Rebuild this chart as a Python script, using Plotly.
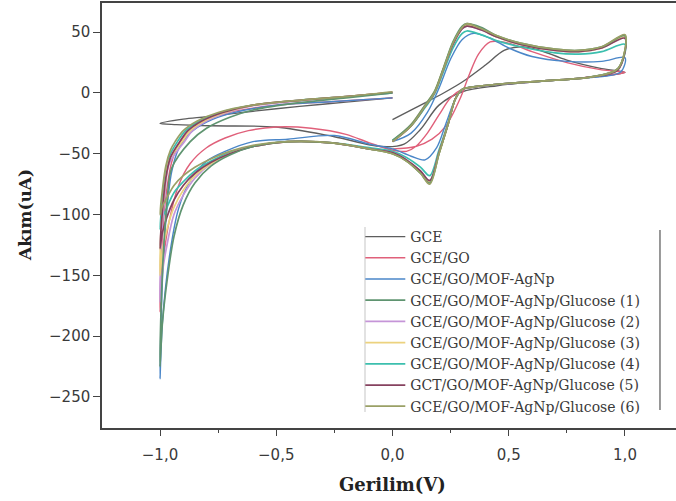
import plotly.graph_objects as go

# ---------------- data (potential V, current uA) ----------------
names = ["GCE", "GCE/GO", "GCE/GO/MOF-AgNp",
         "GCE/GO/MOF-AgNp/Glucose (1)", "GCE/GO/MOF-AgNp/Glucose (2)",
         "GCE/GO/MOF-AgNp/Glucose (3)", "GCE/GO/MOF-AgNp/Glucose (4)",
         "GCT/GO/MOF-AgNp/Glucose (5)", "GCE/GO/MOF-AgNp/Glucose (6)"]
colors = ["#5e5e5e", "#e0607a", "#4a86c8", "#5f9470", "#c595d8",
          "#ecd27e", "#3cbfae", "#86425f", "#9aa066"]
x_title = "Gerilim(V)"
y_title = "Akım(uA)"

gce_v = [0.0, 0.1, 0.22, 0.3, 0.4, 0.48, 0.55, 0.62, 0.75, 0.9, 1.0,
         0.98, 0.8, 0.6, 0.45, 0.3, 0.2, 0.12, 0.05, -0.05, -0.25, -0.5, -0.78, -0.93, -1.0,
         -0.9, -0.8, -0.6, -0.4, -0.2, 0.0]
gce_i = [-22, -12, 0, 9, 23, 35, 38, 36, 27, 20, 17,
         16, 12, 9, 6, 1, -10, -30, -42, -44, -36, -28, -27, -26, -25,
         -21.5, -19.5, -15, -11, -7.5, -4]

go_v = [0.0, 0.1, 0.17, 0.23, 0.29, 0.33, 0.37, 0.42, 0.5, 0.6, 0.75, 0.9, 1.0,
        0.98, 0.8, 0.6, 0.4, 0.3, 0.25, 0.2, 0.15, 0.1, 0.06, 0.0, -0.1, -0.2, -0.35, -0.5,
        -0.62, -0.72, -0.8, -0.87, -0.92, -0.96, -0.99, -1.0,
        -0.995, -0.985, -0.97, -0.95, -0.92, -0.87, -0.8, -0.7, -0.5, -0.25, 0.0]
go_i = [-46, -44, -38, -27, -5, 15, 32, 42, 41, 34, 25, 19, 17,
        16, 12, 9, 6, 3, -4, -18, -33, -44, -48, -47, -41, -34, -29, -28,
        -31, -37, -45, -58, -76, -105, -145, -180,
        -140, -105, -78, -57, -42, -31, -23, -16, -10, -7, -4]

mof_v = [0.0, 0.08, 0.15, 0.2, 0.25, 0.3, 0.35, 0.42, 0.5, 0.6, 0.75, 0.9, 1.0,
         0.98, 0.8, 0.6, 0.4, 0.3, 0.27, 0.23, 0.19, 0.14, 0.08, 0.0, -0.1, -0.25, -0.45,
         -0.6, -0.72, -0.8, -0.87, -0.92, -0.96, -0.99, -1.0,
         -0.995, -0.985, -0.97, -0.95, -0.92, -0.87, -0.8, -0.7, -0.5, -0.25, 0.0]
mof_i = [-40, -33, -16, 4, 28, 44, 49, 45, 37, 30, 26, 26, 29,
         17, 12, 9, 6, 3, -5, -25, -45, -55, -52, -46, -42, -35, -38,
         -40, -48, -56, -72, -95, -135, -190, -235,
         -185, -135, -95, -65, -46, -33, -24, -17, -10, -7, -4]

# shared sweep potentials for the glucose runs
glu_up_v = [0.0, 0.08, 0.14, 0.18, 0.22, 0.26, 0.3, 0.32, 0.38, 0.45, 0.55, 0.7, 0.8, 0.9, 1.0]
glu_down_v = [0.97, 0.85, 0.7, 0.5, 0.35, 0.3, 0.27, 0.24, 0.2, 0.16, 0.12, 0.06, 0.0,
              -0.1, -0.26, -0.45, -0.6, -0.7, -0.78, -0.85, -0.9, -0.94, -0.97, -0.99, -1.0]

g1_up_i = [-39, -26, -10, 1, 21, 42, 55, 57, 54, 47, 41, 36, 35, 38, 47]
g1_down_i = [20, 13, 10.5, 8, 5, 3, -5, -25, -50, -74, -66, -56, -50,
             -46, -41, -40, -44, -51, -60, -74, -92, -118, -155, -190, -225]
g1_back_v = [-0.995, -0.985, -0.97, -0.95, -0.87, -0.8, -0.7, -0.6, -0.4, -0.2, 0.0]
g1_back_i = [-175, -130, -90, -62, -40, -29, -20, -14, -8, -4, 0]

g2_up_i = [-40, -26, -10, 0, 20, 40, 53, 55, 52, 46, 40, 35, 34, 37, 46]
g2_down_i = [20, 13, 10.5, 8, 5, 3, -5, -25, -49, -72, -64, -55, -49,
             -46, -41, -40, -44, -50, -58, -70, -84, -100, -125, -148, -172]
g2_back_v = [-0.995, -0.98, -0.96, -0.895, -0.86, -0.8, -0.71, -0.6, -0.4, -0.2, 0.0]
g2_back_i = [-125, -85, -58, -40, -31, -23, -16, -10.5, -6.5, -3, 0]

g3_up_i = [-40, -26, -10, 1, 21, 41, 54, 56, 53, 46, 40, 35, 34, 37, 46]
g3_down_i = [20, 13, 10.5, 8, 5, 3, -5, -25, -50, -73, -65, -56, -50,
             -46, -41, -40, -44, -50, -58, -68, -80, -94, -112, -130, -150]
g3_back_v = [-0.995, -0.98, -0.96, -0.905, -0.87, -0.81, -0.72, -0.6, -0.4, -0.2, 0.0]
g3_back_i = [-110, -78, -55, -40, -31, -23, -16, -10, -6, -3, 0.5]

g4_up_i = [-39, -27, -12, -1, 18, 37, 49, 51, 48, 43, 38, 33, 32, 34, 40]
g4_down_i = [20, 13, 10.5, 8, 5, 3, -5, -24, -47, -68, -61, -53, -48,
             -45, -41, -40, -44, -49, -56, -64, -73, -82, -94, -103, -112]
g4_back_v = [-0.99, -0.975, -0.955, -0.925, -0.89, -0.83, -0.74, -0.6, -0.4, -0.2, 0.0]
g4_back_i = [-88, -64, -50, -40, -31, -23, -16, -10, -6, -3, 0]

g5_up_i = [-40, -27, -11, 0, 20, 40, 53, 55, 52, 46, 40, 35, 34, 37, 45]
g5_down_i = [19, 13, 10.5, 8, 5, 3, -5, -25, -49, -72, -64, -55, -49,
             -46, -41, -40, -44, -50, -57, -66, -76, -88, -102, -115, -128]
g5_back_v = [-0.99, -0.975, -0.955, -0.915, -0.88, -0.82, -0.73, -0.6, -0.4, -0.2, 0.0]
g5_back_i = [-98, -70, -53, -40, -31, -23, -16, -10, -6, -3, 0.5]

g6_up_i = [-40, -27, -11, 0, 20, 41, 54, 57, 53, 47, 41, 36, 35, 38, 48]
g6_down_i = [20, 13, 10.5, 8, 5, 3, -5, -25, -50, -75, -66, -56, -50,
             -46, -41, -40, -43, -48, -54, -61, -68, -76, -86, -93, -100]
g6_back_v = [-0.99, -0.975, -0.955, -0.935, -0.9, -0.84, -0.75, -0.6, -0.4, -0.2, 0.0]
g6_back_i = [-80, -60, -47, -40, -31, -23, -16, -10, -6, -3, 1]

series_v = [gce_v, go_v, mof_v]
series_i = [gce_i, go_i, mof_i]
for up_i, down_i, back_v, back_i in [
        (g1_up_i, g1_down_i, g1_back_v, g1_back_i),
        (g2_up_i, g2_down_i, g2_back_v, g2_back_i),
        (g3_up_i, g3_down_i, g3_back_v, g3_back_i),
        (g4_up_i, g4_down_i, g4_back_v, g4_back_i),
        (g5_up_i, g5_down_i, g5_back_v, g5_back_i),
        (g6_up_i, g6_down_i, g6_back_v, g6_back_i)]:
    series_v.append(glu_up_v + glu_down_v + back_v)
    series_i.append(up_i + down_i + back_i)

# ---------------- figure ----------------
fig = go.Figure()
draw_order = [0, 1, 2, 6, 4, 5, 7, 3, 8]
for k in range(len(names)):
    fig.add_trace(go.Scatter(
        x=series_v[k], y=series_i[k], mode="lines", name=names[k],
        line=dict(color=colors[k], width=1.7 if k >= 3 else 1.4,
                  shape="spline", smoothing=0.9),
        legendrank=k + 1,
    ))
# draw the olive/green runs on top
fig.data = tuple(fig.data[k] for k in draw_order)

axis_font = dict(family="DejaVu Sans", size=15, color="#3a3a3a")

fig.update_layout(
    width=676, height=501,
    margin=dict(l=102, r=0, t=3, b=73, autoexpand=False),
    paper_bgcolor="white", plot_bgcolor="white",
    separators=",.",
    showlegend=True,
    legend=dict(x=0.450, y=0.487, xanchor="left", yanchor="top",
                bgcolor="rgba(255,255,255,0)", borderwidth=0,
                font=dict(family="DejaVu Serif", size=14, color="#3a3a3a"),
                tracegroupgap=0, itemwidth=40, traceorder="normal"),
    xaxis=dict(range=[-1.2495, 1.2194], tick0=0, dtick=0.5, tickformat=".1f",
               showgrid=False, zeroline=False, automargin=False,
               showline=True, linecolor="#444", linewidth=1.5, mirror=True,
               ticks="outside", ticklen=6, tickwidth=1.3, tickcolor="#444",
               minor=dict(dtick=0.25, ticks="outside", ticklen=3, tickcolor="#444"),
               tickfont=axis_font, ticklabelstandoff=6),
    yaxis=dict(range=[-275.5, 74], tick0=0, dtick=50,
               showgrid=False, zeroline=False, automargin=False,
               showline=True, linecolor="#444", linewidth=1.5, mirror=False,
               ticks="outside", ticklen=7, tickwidth=1.3, tickcolor="#444",
               tickfont=axis_font),
    annotations=[
        dict(text=x_title, xref="paper", yref="paper", x=(392 - 102) / 574, y=-(485 - 428) / 425,
             xanchor="center", yanchor="middle", showarrow=False,
             font=dict(family="DejaVu Serif", size=18, color="#222", weight="bold")),
        dict(text=y_title, xref="paper", yref="paper", x=-(102 - 25) / 574, y=(428 - 215) / 425,
             xanchor="center", yanchor="middle", showarrow=False, textangle=-90,
             font=dict(family="DejaVu Serif", size=17, color="#222", weight="bold")),
    ],
    shapes=[
        dict(type="line", xref="paper", yref="paper", x0=0.4582, x1=0.4582,
             y0=0.0376, y1=0.473, line=dict(color="#cfcfcf", width=1.2)),
        dict(type="line", xref="paper", yref="paper", x0=0.9721, x1=0.9721,
             y0=0.0424, y1=0.466, line=dict(color="#555", width=1.2)),
    ],
)

fig.write_html("out.html", config={"displayModeBar": False},
               post_script="document.body.style.margin='0';document.body.style.overflow='hidden';")
